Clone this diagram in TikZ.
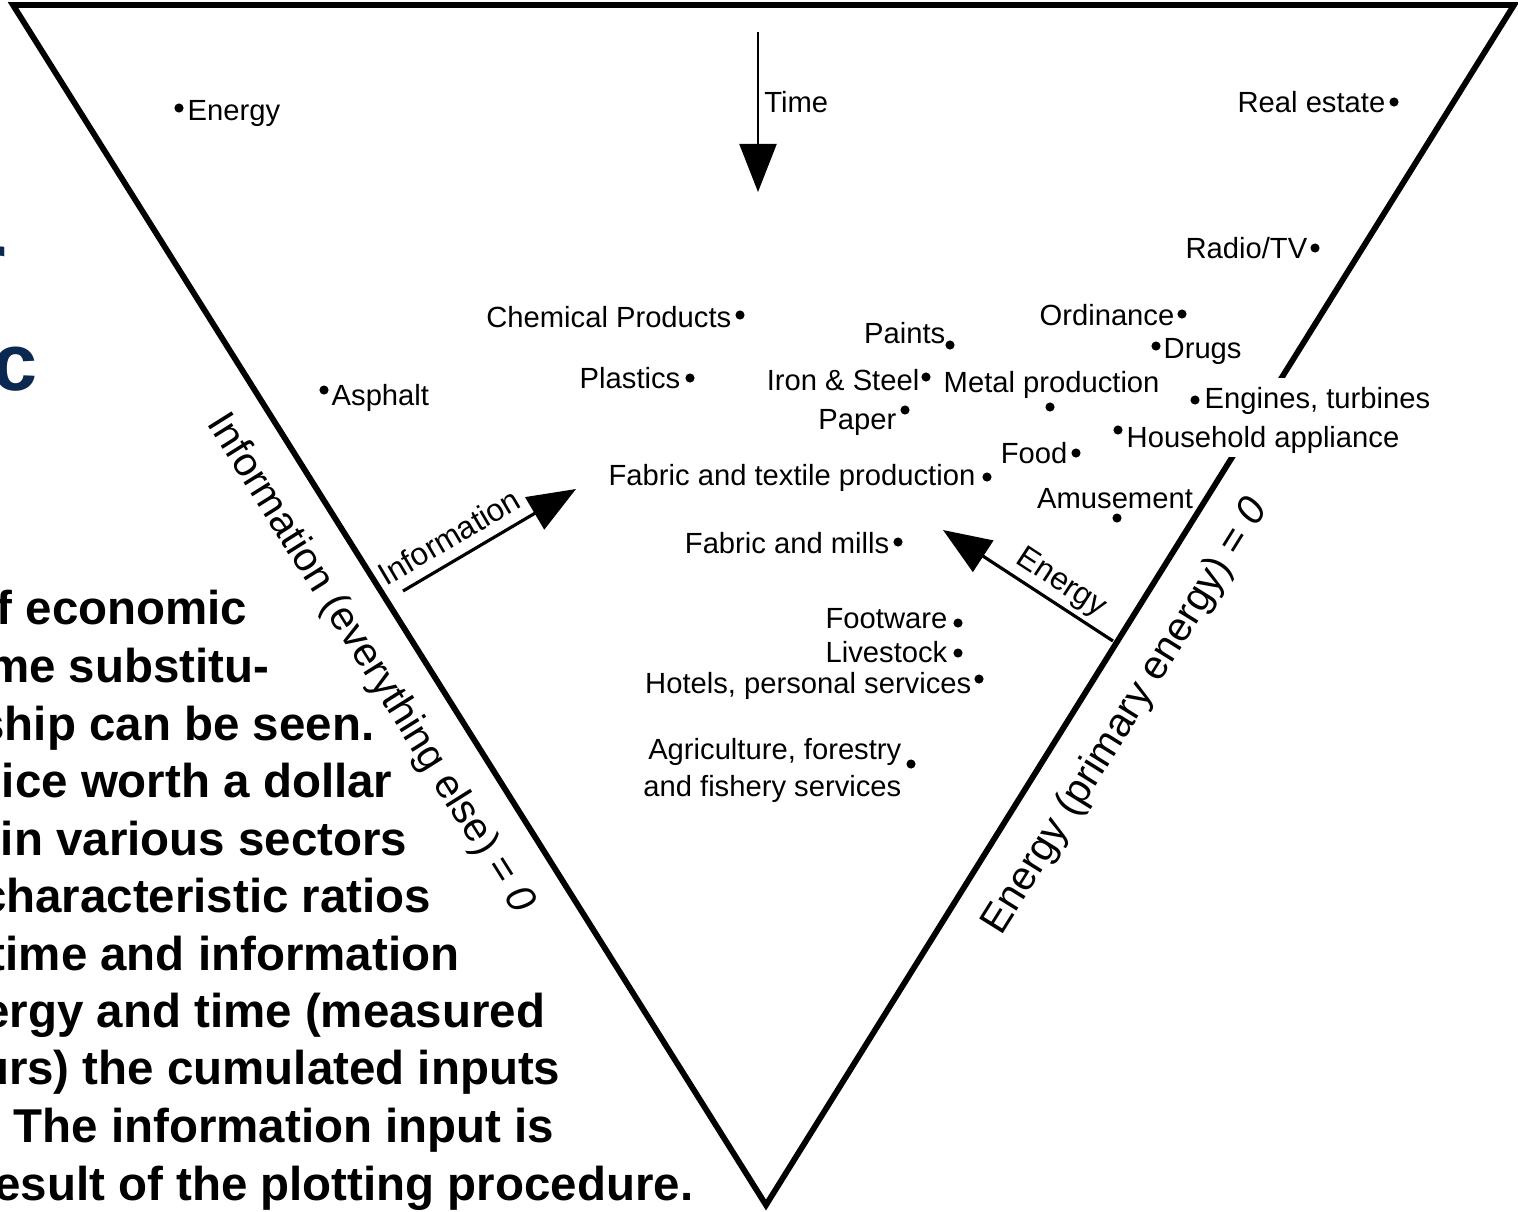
\documentclass[tikz,border=0pt]{standalone}
\usepackage{fontspec}
\setmainfont{Liberation Sans}
\usepackage{tikz}
\usetikzlibrary{arrows.meta}
\definecolor{titlenavy}{RGB}{10,40,80}

\begin{document}
\begin{tikzpicture}[x=0.01cm, y=-0.01cm,
  edge/.style={line width=1.65pt},
  arr/.style={line width=0.9pt, -{Triangle[length=4.8mm, width=3.7mm]}},
  dot/.style={circle, fill, inner sep=0pt, minimum size=2.6pt},
  lbl/.style={inner sep=0pt, text height=6pt, text depth=0pt, font=\fontsize{8.3}{10.5}\selectfont},
  cover/.style={fill=white, inner ysep=2.6pt},
  arrlbl/.style={inner sep=0pt, text depth=2pt, font=\fontsize{9}{11}\selectfont},
  side/.style={inner sep=0pt, font=\fontsize{11.5}{13}\selectfont},
  note/.style={inner sep=0pt, font=\fontsize{13.5}{16.4}\selectfont\bfseries},
  title/.style={inner sep=0pt, titlenavy, font=\fontsize{23}{28}\selectfont\bfseries}]

\useasboundingbox (0,0) rectangle (1518,1211);

% text behind the diagram
\node (title_r) at (7,290) [title, anchor=base east] {r};
\node (title_c) at (38,390) [title, anchor=base east] {c};

\node (note1) at (248,624) [note, anchor=base east] {f economic};
\node (note2) at (270,682) [note, anchor=base east] {me substitu-};
\node (note3) at (375,740) [note, anchor=base east] {ship can be seen.};
\node (note4) at (393,797) [note, anchor=base east] {ice worth a dollar};
\node (note5) at (408,855) [note, anchor=base east] {in various sectors};
\node (note6) at (432,912) [note, anchor=base east] {characteristic ratios};
\node (note7) at (460,970) [note, anchor=base east] {time and information};
\node (note8) at (546,1027) [note, anchor=base east] {ergy and time (measured};
\node (note9) at (561,1084) [note, anchor=base east] {urs) the cumulated inputs};
\node (note10) at (13,1142) [note, anchor=base west] {The information input is};
\node (note11) at (694,1200) [note, anchor=base east] {esult of the plotting procedure.};

% triangle
\coordinate (top_left) at (13,5);
\coordinate (top_right) at (1514,5);
\coordinate (bottom) at (766,1205);
\draw[edge] (top_left) -- (top_right) -- (bottom) -- cycle;

\path (top_left) -- node[side, sloped, below=8pt, pos=0.528] (info_axis) {Information (everything else) = \textit{0}} (bottom);
\path (bottom) -- node[side, sloped, below=8pt, pos=0.4275] (energy_axis) {Energy (primary energy) = \textit{0}} (top_right);

% sectors
\node (energy) at (187,110) [lbl, anchor=west] {Energy};
\node (asphalt) at (331,395) [lbl, anchor=west] {Asphalt};
\node (chemical) at (732,317) [lbl, anchor=east] {Chemical Products};
\node (plastics) at (681,378) [lbl, anchor=east] {Plastics};
\node (paints) at (946,333) [lbl, anchor=east] {Paints};
\node (iron) at (920,380) [lbl, anchor=east] {Iron \& Steel};
\node (metal) at (943,382) [lbl, anchor=west] {Metal production};
\node (paper) at (897,419) [lbl, anchor=east] {Paper};
\node (textile) at (976,475) [lbl, anchor=east] {Fabric and textile production};
\node (food) at (1068,453) [lbl, anchor=east] {Food};
\node (amusement) at (1115,498) [lbl] {Amusement};
\node (ordinance) at (1175,315) [lbl, anchor=east] {Ordinance};
\node (drugs) at (1163,348) [lbl, anchor=west] {Drugs};
\node (engines) at (1204,398) [lbl, cover, anchor=west] {Engines, turbines};
\node (household) at (1126,437) [lbl, cover, anchor=west] {Household appliance};
\node (realestate) at (1386,102) [lbl, anchor=east] {Real estate};
\node (radiotv) at (1308,248) [lbl, anchor=east] {Radio/TV};
\node (mills) at (890,543) [lbl, anchor=east] {Fabric and mills};
\node (footware) at (948,618) [lbl, anchor=east] {Footware};
\node (livestock) at (948,652) [lbl, anchor=east] {Livestock};
\node (hotels) at (972,683) [lbl, anchor=east] {Hotels, personal services};
\node (agriculture) at (902,770) [inner sep=0pt, align=right, anchor=east, font=\fontsize{8.3}{10.5}\selectfont] {Agriculture, forestry\\and fishery services};

\node (energy_dot) at (179,108) [dot] {};
\node (asphalt_dot) at (324,390) [dot] {};
\node (chemical_dot) at (740,315) [dot] {};
\node (plastics_dot) at (690,378) [dot] {};
\node (paints_dot) at (950,345) [dot] {};
\node (iron_dot) at (926,377) [dot] {};
\node (metal_dot) at (1050,407) [dot] {};
\node (paper_dot) at (905,410) [dot] {};
\node (textile_dot) at (987,477) [dot] {};
\node (food_dot) at (1076,453) [dot] {};
\node (amusement_dot) at (1117,518) [dot] {};
\node (ordinance_dot) at (1182,314) [dot] {};
\node (drugs_dot) at (1156,346) [dot] {};
\node (engines_dot) at (1195,400) [dot] {};
\node (household_dot) at (1118,430) [dot] {};
\node (realestate_dot) at (1394,102) [dot] {};
\node (radiotv_dot) at (1315,248) [dot] {};
\node (mills_dot) at (898,542) [dot] {};
\node (footware_dot) at (958,623) [dot] {};
\node (livestock_dot) at (958,653) [dot] {};
\node (hotels_dot) at (979,679) [dot] {};
\node (agriculture_dot) at (911,764) [dot] {};

% arrows
\coordinate (time_start) at (758,32);
\coordinate (time_tip) at (758,192);
\draw[arr, line width=0.6pt] (time_start) -- node[lbl, anchor=west, pos=0.44, xshift=1.5pt] (time) {Time} (time_tip);

\coordinate (info_start) at (403,591);
\coordinate (info_tip) at (576,489);
\draw[arr] (info_start) -- node[arrlbl, sloped, above=1pt, pos=0.335] (info) {Information} (info_tip);

\coordinate (energy_start) at (1113,641);
\coordinate (energy_tip) at (943,530);
\draw[arr] (energy_start) -- node[arrlbl, sloped, above=1pt, pos=0.37] (energy_in) {Energy} (energy_tip);

\end{tikzpicture}
\end{document}
